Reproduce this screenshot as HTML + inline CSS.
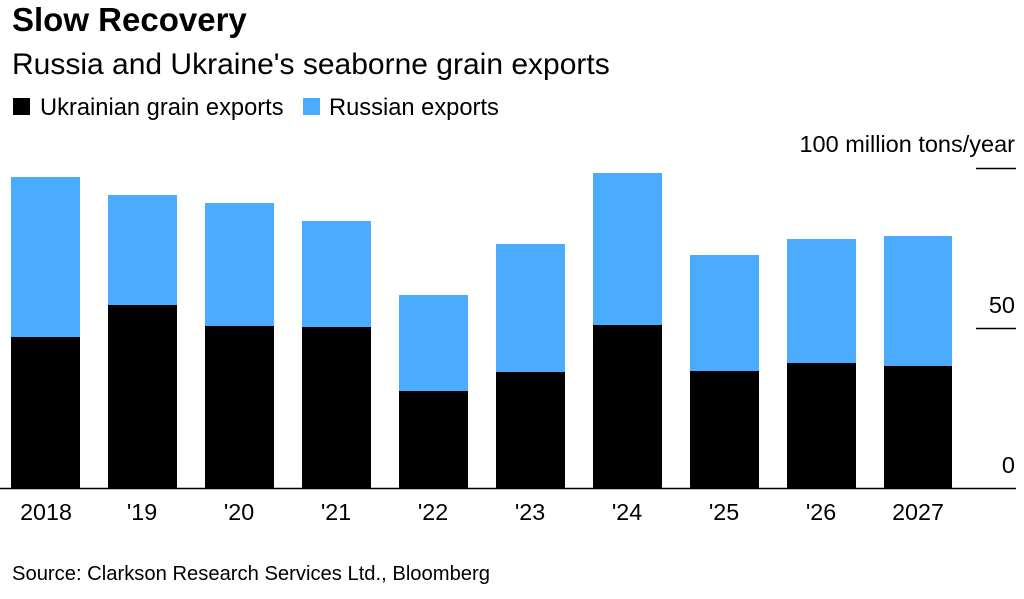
<!DOCTYPE html>
<html><head><meta charset="utf-8"><style>
body{margin:0;background:#fff;width:1024px;height:594px;overflow:hidden;font-family:"Liberation Sans",Arial,sans-serif;}
</style></head><body>
<svg width="1024" height="594" xmlns="http://www.w3.org/2000/svg" font-family="Liberation Sans, Arial, sans-serif">
<text x="12" y="31" font-size="33" font-weight="bold" fill="#000">Slow Recovery</text>
<text x="12" y="74" font-size="30" fill="#000">Russia and Ukraine's seaborne grain exports</text>
<rect x="13" y="98" width="17" height="17" fill="#000"/>
<text x="40" y="115" font-size="23.7" fill="#000">Ukrainian grain exports</text>
<rect x="303" y="98" width="17" height="17" fill="#4aabff"/>
<text x="329" y="115" font-size="23.7" fill="#000">Russian exports</text>
<text x="1015" y="152" font-size="23.5" text-anchor="end" fill="#000">100 million tons/year</text>
<text x="1015" y="313" font-size="23.5" text-anchor="end" fill="#000">50</text>
<text x="1015" y="473" font-size="23.5" text-anchor="end" fill="#000">0</text>
<line x1="976" y1="168.5" x2="1016" y2="168.5" stroke="#000" stroke-width="1.5"/>
<line x1="976" y1="328.5" x2="1016" y2="328.5" stroke="#000" stroke-width="1.5"/>
<g fill="#4aabff">
<rect x="11" y="177" width="69" height="160"/>
<rect x="108" y="195" width="69" height="110"/>
<rect x="205" y="203" width="69" height="123"/>
<rect x="302" y="221" width="69" height="106"/>
<rect x="399" y="295" width="69" height="96"/>
<rect x="496" y="244" width="69" height="128"/>
<rect x="593" y="173" width="69" height="152"/>
<rect x="690" y="255" width="69" height="116"/>
<rect x="787" y="239" width="69" height="124"/>
<rect x="884" y="236" width="68" height="130"/>
</g>
<g fill="#000">
<rect x="11" y="337" width="69" height="152"/>
<rect x="108" y="305" width="69" height="184"/>
<rect x="205" y="326" width="69" height="163"/>
<rect x="302" y="327" width="69" height="162"/>
<rect x="399" y="391" width="69" height="98"/>
<rect x="496" y="372" width="69" height="117"/>
<rect x="593" y="325" width="69" height="164"/>
<rect x="690" y="371" width="69" height="118"/>
<rect x="787" y="363" width="69" height="126"/>
<rect x="884" y="366" width="68" height="123"/>
</g>
<line x1="0" y1="488.5" x2="1016" y2="488.5" stroke="#000" stroke-width="1.5"/>
<g font-size="23.3" text-anchor="middle" fill="#000">
<text x="46" y="520">2018</text>
<text x="142" y="520">'19</text>
<text x="239" y="520">'20</text>
<text x="336" y="520">'21</text>
<text x="433" y="520">'22</text>
<text x="530" y="520">'23</text>
<text x="627" y="520">'24</text>
<text x="724" y="520">'25</text>
<text x="821" y="520">'26</text>
<text x="918" y="520">2027</text>
</g>
<text x="12" y="580" font-size="20.2" fill="#000">Source: Clarkson Research Services Ltd., Bloomberg</text>
</svg>
</body></html>
